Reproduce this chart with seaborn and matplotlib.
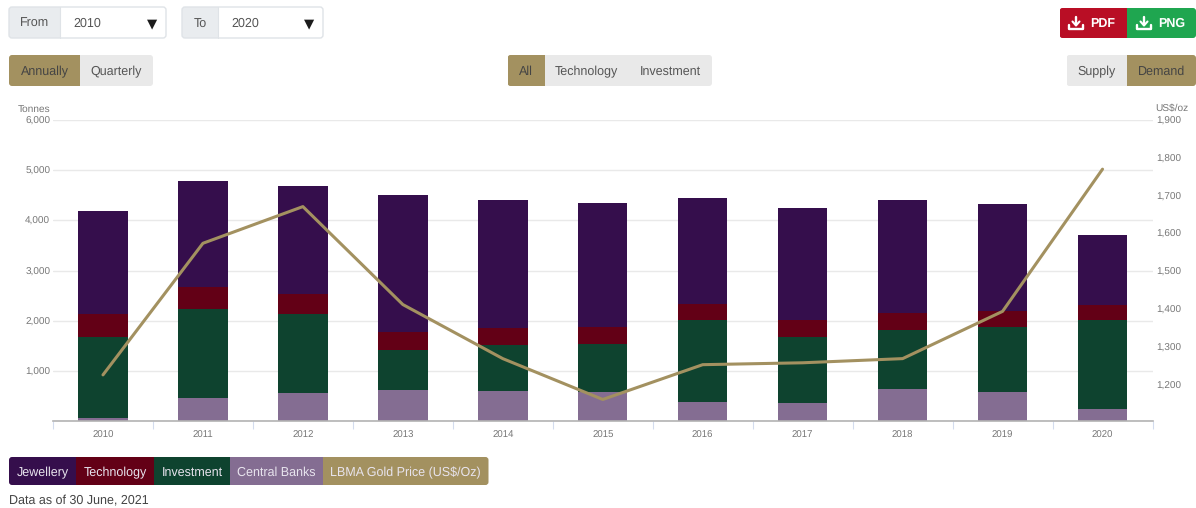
import numpy as np
import pandas as pd
import matplotlib
matplotlib.use("Agg")
import matplotlib.pyplot as plt
from matplotlib.patches import Rectangle, FancyBboxPatch
from matplotlib.ticker import FuncFormatter, MultipleLocator
import seaborn as sns

# Gold demand by sector, tonnes per year
years = [2010, 2011, 2012, 2013, 2014, 2015, 2016, 2017, 2018, 2019, 2020]
central_banks = [62, 472, 560, 631, 600, 580, 380, 361, 645, 592, 241]
investment = [1614, 1767, 1586, 791, 916, 968, 1645, 1327, 1181, 1289, 1785]
technology = [458, 438, 392, 353, 351, 333, 319, 339, 333, 313, 293]
jewellery = [2064, 2106, 2157, 2729, 2544, 2464, 2100, 2225, 2251, 2131, 1400]

# LBMA gold price, US$/oz
gold_price = [1226, 1574, 1671, 1412, 1269, 1161, 1253, 1258, 1269, 1394, 1770]

legend_labels = ["Jewellery", "Technology", "Investment", "Central Banks", "LBMA Gold Price (US$/Oz)"]

PURPLE = "#350e4c"
MAROON = "#630016"
GREEN = "#0e432f"
LILAC = "#846d92"
GOLD = "#a39160"
BTN_GREY = "#e9e9e9"
ADDON_GREY = "#e9ecef"
TEXT = "#555555"
AXIS_TEXT = "#777777"

sns.set_theme(style="white")
plt.rcParams["font.family"] = ["Liberation Sans", "DejaVu Sans"]
plt.rcParams["text.hinting"] = "no_hinting"

W, H = 1196, 508
fig = plt.figure(figsize=(W / 100, H / 100), dpi=100, facecolor="white")


def px_axes(x0, y0, x1, y1, **kw):
    """Axes placed by its pixel box, with y measured from the top edge."""
    return fig.add_axes([x0 / W, 1 - y1 / H, (x1 - x0) / W, (y1 - y0) / H], **kw)


# ---- chart ----
df = pd.DataFrame({
    "year": years,
    "Central Banks": central_banks,
    "Investment": investment,
    "Technology": technology,
    "Jewellery": jewellery,
})

ax = px_axes(53, 120, 1152.5, 421.4)
base = np.zeros(len(df))
for name, colour in [("Central Banks", LILAC), ("Investment", GREEN),
                     ("Technology", MAROON), ("Jewellery", PURPLE)]:
    sns.barplot(data=df, x="year", y=name, ax=ax, native_scale=True, color=colour,
                saturation=1, width=0.495, bottom=base, errorbar=None, linewidth=0)
    base = base + df[name].to_numpy()

ax.set_xlim(2009.5, 2020.5)
ax.set_ylim(0, 6000)
ax.set_xlabel("")
ax.set_ylabel("")
ax.set_axisbelow(True)
ax.yaxis.set_major_locator(MultipleLocator(1000))
ax.yaxis.set_major_formatter(FuncFormatter(lambda v, _: "" if v == 0 else f"{int(v):,}"))
ax.yaxis.grid(True, color="#e9e9e9", linewidth=1.0)
ax.xaxis.grid(False)
ax.set_xticks(years)
ax.set_xticks(np.array(years + [years[-1] + 1]) - 0.5, minor=True)
ax.tick_params(axis="x", which="major", length=0, pad=7, labelsize=6.9, labelcolor=AXIS_TEXT)
ax.tick_params(axis="x", which="minor", length=6, width=0.8, color="#d3dcee", bottom=True)
ax.tick_params(axis="y", length=0, pad=2, labelsize=7.2, labelcolor=AXIS_TEXT)
for side in ("top", "left", "right"):
    ax.spines[side].set_visible(False)
ax.spines["bottom"].set_color("#b3b3b3")
ax.spines["bottom"].set_linewidth(1.2)

twin = ax.twinx()
sns.lineplot(x=years, y=gold_price, ax=twin, color=GOLD, linewidth=2.2, errorbar=None)
twin.set_ylim(1103, 1900)
twin.yaxis.set_major_locator(MultipleLocator(100))
twin.yaxis.set_major_formatter(FuncFormatter(lambda v, _: f"{int(v):,}"))
twin.tick_params(axis="y", length=0, pad=3, labelsize=7.2, labelcolor=AXIS_TEXT)
twin.set_ylabel("")
twin.grid(False)
for side in ("top", "left", "right", "bottom"):
    twin.spines[side].set_visible(False)

# ---- page controls around the chart, in pixel coordinates ----
ui = fig.add_axes([0, 0, 1, 1], zorder=-1)
ui.set_xlim(0, W)
ui.set_ylim(H, 0)
ui.axis("off")


def rounded(x0, y0, x1, y1, **kw):
    patch = FancyBboxPatch((x0, y0), x1 - x0, y1 - y0,
                           boxstyle="round,pad=0,rounding_size=3", **kw)
    ui.add_patch(patch)
    return patch


def group(x0, y0, x1, y1, parts):
    """Adjacent coloured segments sharing one rounded outline."""
    outline = rounded(x0, y0, x1, y1, facecolor="none", edgecolor="none")
    for left, right, colour in parts:
        seg = Rectangle((left, y0), right - left, y1 - y0, facecolor=colour, edgecolor="none")
        ui.add_patch(seg)
        seg.set_clip_path(outline)


def label(x, y, s, colour=TEXT, size=9.0, **kw):
    # Baseline alignment keeps neighbouring labels level whatever their descenders.
    ui.text(x, y + 1.0 + 0.5 * size, s, color=colour, fontsize=size,
            ha=kw.pop("ha", "center"), va="baseline", **kw)


def select(x0, x_split, x1, title, value, value_x, arrow_x, title_y=21.5):
    group(x0, 7, x1, 38, [(x0, x_split, ADDON_GREY), (x_split, x1, "white")])
    rounded(x0, 7, x1, 38, facecolor="none", edgecolor="#dfe3e7", linewidth=1.0, zorder=5)
    ui.plot([x_split, x_split], [7, 38], color="#dfe3e7", linewidth=0.8)
    label((x0 + x_split) / 2, title_y, title)
    label(value_x, 21, value, ha="left")
    label(arrow_x, 21.5, "\u25BC", colour="#1c1c1c", size=9.5, family="DejaVu Sans")


def download_icon(cx, cy):
    ui.plot([cx, cx], [cy - 6, cy + 2], color="white", linewidth=1.7)
    ui.plot([cx - 3.5, cx, cx + 3.5], [cy - 1, cy + 3, cy - 1], color="white", linewidth=1.5)
    ui.plot([cx - 7, cx - 7, cx + 7, cx + 7], [cy + 2, cy + 6, cy + 6, cy + 2], color="white", linewidth=1.7)


select(9, 60, 166, "From", "2010", 73.5, 152.5)
select(182, 218, 323, "To", "2020", 231, 309.5, title_y=22.3)

group(1059.5, 8, 1196, 38, [(1059.5, 1127, "#b90e25"), (1127, 1196, "#1fa650")])
download_icon(1076, 22.5)
download_icon(1144, 22.5)
label(1103, 21.5, "PDF", colour="white", fontweight="bold")
label(1171.5, 21.5, "PNG", colour="white", fontweight="bold")

group(9, 55, 153, 86, [(9, 80, GOLD), (80, 153, BTN_GREY)])
label(44.5, 69.5, "Annually", colour="#444444")
label(116, 69.5, "Quarterly")

group(507.5, 55, 712, 86, [(507.5, 544.5, GOLD), (544.5, 712, BTN_GREY)])
label(526, 69.5, "All", colour="#444444")
label(586.5, 69.5, "Technology")
label(670.5, 70.3, "Investment")

group(1066.5, 55, 1196, 86, [(1066.5, 1126.5, BTN_GREY), (1126.5, 1196, GOLD)])
label(1097, 69.5, "Supply")
label(1162, 69.5, "Demand", colour="#444444")

# Axis titles
label(50, 107, "Tonnes", colour=AXIS_TEXT, size=7.3, ha="right")
label(1155.5, 107, "US$/oz", colour=AXIS_TEXT, size=7.3, ha="left")

# Legend strip
edges = [9, 76, 154, 230, 323, 488.5]
swatches = [PURPLE, MAROON, GREEN, LILAC, GOLD]
parts = list(zip(edges[:-1], edges[1:], swatches))
group(edges[0], 457, edges[-1], 485, parts)
for left, right, name in zip(edges[:-1], edges[1:], legend_labels):
    label((left + right) / 2, 471.3 if name == "Investment" else 470.5, name, colour="#e8e4ee")

label(9, 499, "Data as of 30 June, 2021", colour="#444444", ha="left")

fig.savefig("out.png", dpi=100)
